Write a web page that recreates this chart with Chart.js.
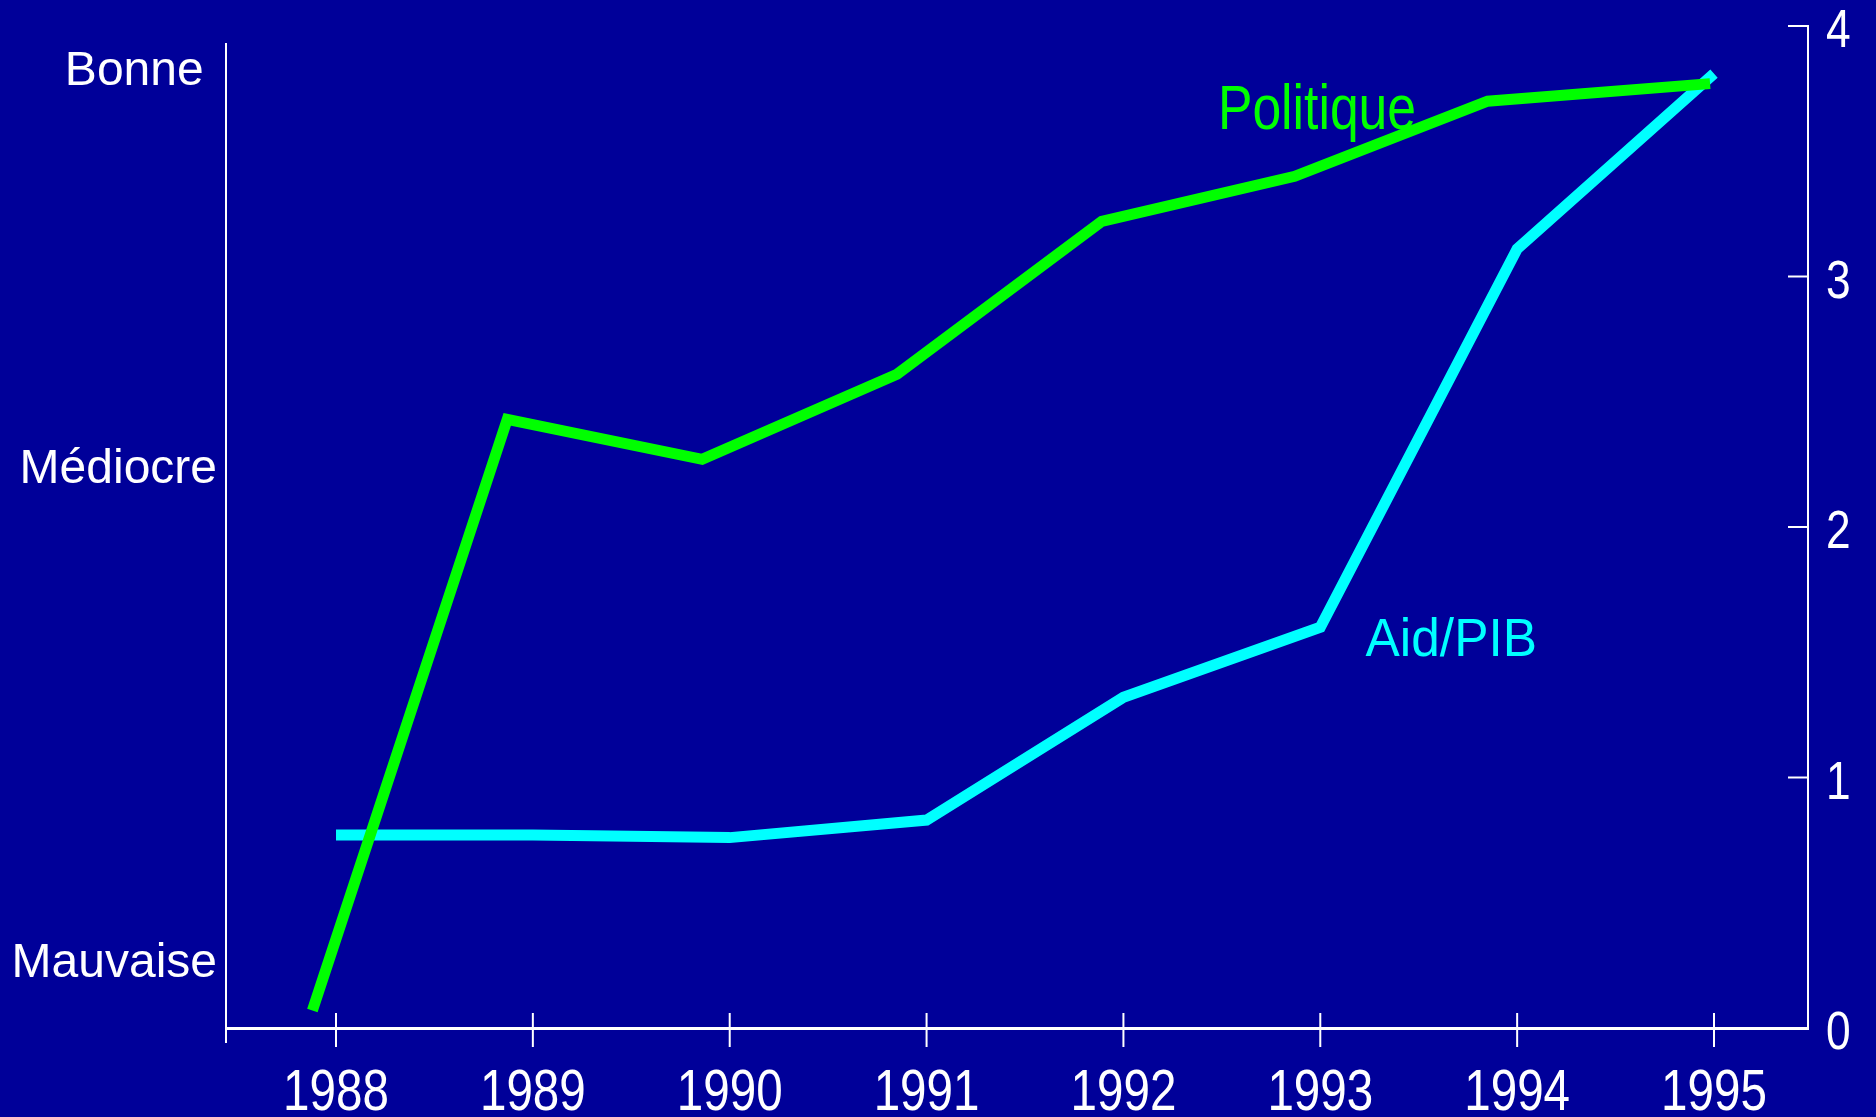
<!DOCTYPE html>
<html>
<head>
<meta charset="utf-8">
<script src="https://cdn.jsdelivr.net/npm/chart.js@4/dist/chart.umd.min.js"></script>
<style>
  html, body { margin: 0; padding: 0; background: #000099; overflow: hidden; }
  canvas { display: block; }
</style>
</head>
<body>
<canvas id="chart" width="1876" height="1117"></canvas>
<script>
  const years = [1988, 1989, 1990, 1991, 1992, 1993, 1994, 1995];
  const aidPib = [0.77, 0.77, 0.76, 0.83, 1.32, 1.6, 3.11, 3.81];
  const politiqueYears = [1987.88, 1988.87, 1989.86, 1990.85, 1991.89, 1992.87, 1993.85, 1994.98];
  const politique = [0.07, 2.43, 2.27, 2.61, 3.22, 3.4, 3.7, 3.77];
  const rightTicks = [0, 1, 2, 3, 4];
  const qualityLabels = ["Mauvaise", "Médiocre", "Bonne "];
  const qualityLevels = [0.258, 2.228, 3.818];

  const sans = '"Liberation Sans", Arial, sans-serif';
  const white = "#ffffff";

  // the original uses a condensed face: squeeze normal text horizontally
  function narrowText(ctx, text, x, y, size, color, align, squeeze) {
    ctx.save();
    ctx.translate(x, y);
    ctx.scale(squeeze, 1);
    ctx.font = size + "px " + sans;
    ctx.fillStyle = color;
    ctx.textAlign = align;
    ctx.textBaseline = "alphabetic";
    ctx.fillText(text, 0, 0);
    ctx.restore();
  }

  const decorations = {
    id: "decorations",
    afterDraw(chart) {
      const { ctx, chartArea, scales } = chart;
      ctx.save();
      ctx.strokeStyle = white;
      ctx.lineWidth = 2;
      // left axis, a bit longer than the plot
      ctx.beginPath();
      ctx.moveTo(chartArea.left - 2, chartArea.top + 17);
      ctx.lineTo(chartArea.left - 2, chartArea.bottom + 15);
      ctx.stroke();
      // year ticks crossing the axis
      scales.x.ticks.forEach((t) => {
        const px = scales.x.getPixelForValue(t.value);
        ctx.beginPath();
        ctx.moveTo(px, chartArea.bottom - 15);
        ctx.lineTo(px, chartArea.bottom + 19);
        ctx.stroke();
        narrowText(ctx, String(t.value), px, chartArea.bottom + 82, 58, white, "center", 0.82);
      });
      // inward ticks on the right axis
      scales.y.ticks.forEach((t) => {
        const py = scales.y.getPixelForValue(t.value);
        ctx.beginPath();
        ctx.moveTo(chartArea.right - 20, py);
        ctx.lineTo(chartArea.right, py);
        ctx.stroke();
        narrowText(ctx, String(t.value), chartArea.right + 18, py + 21, 54, white, "left", 0.82);
      });
      ctx.restore();
    },
    afterDatasetsDraw(chart) {
      const { ctx, scales } = chart;
      narrowText(ctx, "Politique", scales.x.getPixelForValue(1992.48),
        scales.yPol.getPixelForValue(3.59), 63, "#00ff00", "left", 0.82);
      narrowText(ctx, "Aid/PIB", scales.x.getPixelForValue(1993.23),
        scales.y.getPixelForValue(1.485), 53, "#00ffff", "left", 0.97);
    },
  };

  const noPad = (s) => {
    s.paddingTop = 0;
    s.paddingBottom = 0;
    s.paddingLeft = 0;
    s.paddingRight = 0;
  };

  new Chart(document.querySelector("#chart").getContext("2d"), {
    type: "line",
    data: {
      datasets: [
        {
          label: "Politique",
          data: politiqueYears.map((x, i) => ({ x, y: politique[i] })),
          borderColor: "#00ff00",
          borderWidth: 11,
          yAxisID: "yPol",
        },
        {
          label: "Aid/PIB",
          data: years.map((x, i) => ({ x, y: aidPib[i] })),
          borderColor: "#00ffff",
          borderWidth: 11,
          yAxisID: "y",
        },
      ],
    },
    options: {
      responsive: false,
      animation: false,
      devicePixelRatio: 1,
      layout: { padding: { top: 26, left: 0, right: 0, bottom: 0 } },
      elements: {
        point: { radius: 0, hoverRadius: 0 },
        line: { tension: 0, borderJoinStyle: "miter", borderCapStyle: "butt" },
      },
      plugins: { legend: { display: false }, tooltip: { enabled: false } },
      scales: {
        x: {
          type: "linear",
          min: 1987.4514,
          max: 1995.4775,
          afterBuildTicks: (s) => { s.ticks = years.map((v) => ({ value: v })); },
          afterFit: (s) => { s.height = 89; noPad(s); },
          grid: { display: false, drawTicks: false, tickLength: 0 },
          border: { display: true, color: white, width: 3 },
          ticks: { display: false },
        },
        y: {
          position: "right",
          min: 0,
          max: 4,
          afterBuildTicks: (s) => { s.ticks = rightTicks.map((v) => ({ value: v })); },
          afterFit: (s) => { s.width = 68; noPad(s); },
          grid: { display: false, drawTicks: false, tickLength: 0 },
          border: { display: true, color: white, width: 2 },
          ticks: { display: false },
        },
        yPol: {
          position: "left",
          min: 0,
          max: 4,
          afterBuildTicks: (s) => { s.ticks = qualityLevels.map((v) => ({ value: v })); },
          afterFit: (s) => { s.width = 228; noPad(s); },
          grid: { display: false, drawTicks: false, tickLength: 0 },
          border: { display: false },
          ticks: {
            color: white,
            font: { family: sans, size: 48, lineHeight: 1 },
            padding: 11,
            autoSkip: false,
            callback: (v, i) => qualityLabels[i],
          },
        },
      },
    },
    plugins: [decorations],
  });
</script>
</body>
</html>
